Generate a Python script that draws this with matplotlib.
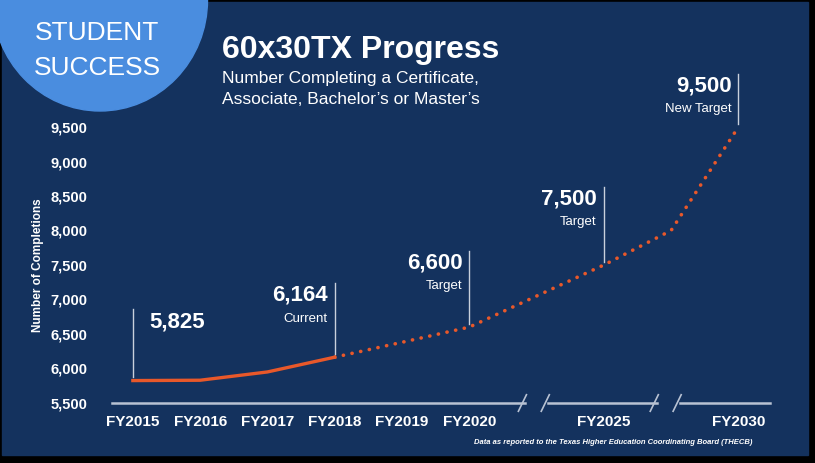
import matplotlib
matplotlib.use("Agg")
import matplotlib.pyplot as plt
from matplotlib.patches import Ellipse, Rectangle

plt.rcParams['font.family'] = ['Liberation Sans', 'DejaVu Sans']

categories = ["FY2015", "FY2016", "FY2017", "FY2018", "FY2019", "FY2020", "FY2025", "FY2030"]
cat_pos = [0, 1, 2, 3, 4, 5, 7, 9]
actual_x = [0, 1, 2, 3]
actual_y = [5825, 5830, 5950, 6164]
proj_x = [3, 4, 5, 6, 7, 8, 9]
proj_y = [6164, 6380, 6600, 7050, 7500, 8000, 9500]
yticks = [5500, 6000, 6500, 7000, 7500, 8000, 8500, 9000, 9500]
callouts = [(0, 5825, "5,825", ""), (3, 6164, "6,164", "Current"),
            (5, 6600, "6,600", "Target"), (7, 7500, "7,500", "Target"),
            (9, 9500, "9,500", "New Target")]

W, H = 815, 463
bg = "#14325e"
fig = plt.figure(figsize=(W/100, H/100), dpi=100)
fig.patch.set_facecolor("black")
fig.add_artist(Rectangle((2/W, 8/H), 806/W, 453/H, transform=fig.transFigure, color=bg, zorder=0))
fig.add_artist(Ellipse((100/W, 1 - 0/H), 215/W, 222/H, transform=fig.transFigure,
                       color="#4a8ddf", zorder=1))
fig.text(97/W, 1 - 33/H, "STUDENT", color="white", fontsize=19, ha="center", va="center")
fig.text(97/W, 1 - 68/H, "SUCCESS", color="white", fontsize=19, ha="center", va="center")
fig.text(222/W, 1 - 50/H, "60x30TX Progress", color="white", fontsize=23, fontweight="bold", va="center")
fig.text(222/W, 1 - 78/H, "Number Completing a Certificate,", color="white", fontsize=12.5, va="center")
fig.text(222/W, 1 - 99/H, "Associate, Bachelor\u2019s or Master\u2019s", color="white", fontsize=12.5, va="center")
fig.text(752/W, 1 - 442/H, "Data as reported to the Texas Higher Education Coordinating Board (THECB)",
         color="white", fontsize=5.5, style="italic", fontweight="bold", ha="right", va="center")

ax = fig.add_axes([112/W, 60/H, (770-112)/W, 276/H])
ax.set_facecolor("none")
ax.set_xlim(-0.31, 9.47)
ax.set_ylim(5500, 9500)
for s in ax.spines.values():
    s.set_visible(False)
ax.tick_params(length=0, colors="white")
ax.set_yticks(yticks)
ax.set_yticklabels([f"{v:,}" for v in yticks], fontsize=10.5, fontweight="bold", color="white")
ax.set_xticks(cat_pos)
ax.set_xticklabels(categories, fontsize=11, fontweight="bold", color="white")
ax.tick_params(axis="x", pad=9)
ax.tick_params(axis="y", pad=18)
ax.set_ylabel("Number of Completions", color="white", fontsize=8.5, fontweight="bold", labelpad=4)

# broken axis line
axc = "#b8c2d3"
for a, b in [(-0.31, 5.83), (6.17, 7.79), (8.13, 9.47)]:
    ax.plot([a, b], [5500, 5500], color=axc, lw=1.8, clip_on=False)
for bx in [5.83, 6.17, 7.79, 8.13]:
    ax.plot([bx - 0.1, bx + 0.02], [5380, 5620], color=axc, lw=1.2, clip_on=False)

ax.plot(proj_x, proj_y, color="#e8582a", lw=2.6, linestyle=(0, (0.05, 2.4)),
        dash_capstyle="round", clip_on=False)
ax.plot(actual_x, actual_y, color="#e8582a", lw=2.4, clip_on=False)

tops = [1040, 1070, 1100, 1130, 770]
for (x, y, big, small), t in zip(callouts, tops):
    ax.plot([x, x], [y + 50, y + t], color="#c8d0dc", lw=1, clip_on=False)
    if x == 0:
        ax.annotate(big, (x, y + t), xytext=(12, -2), textcoords="offset points",
                    color="white", fontsize=16, fontweight="bold", ha="left", va="top")
    else:
        ax.annotate(big, (x, y + t), xytext=(-5, -1), textcoords="offset points",
                    color="white", fontsize=16, fontweight="bold", ha="right", va="top",
                    annotation_clip=False)
        ax.annotate(small, (x, y + t), xytext=(-5, -21), textcoords="offset points",
                    color="white", fontsize=9.5, ha="right", va="top", annotation_clip=False)

fig.savefig("out.png", dpi=100, facecolor=fig.get_facecolor())
